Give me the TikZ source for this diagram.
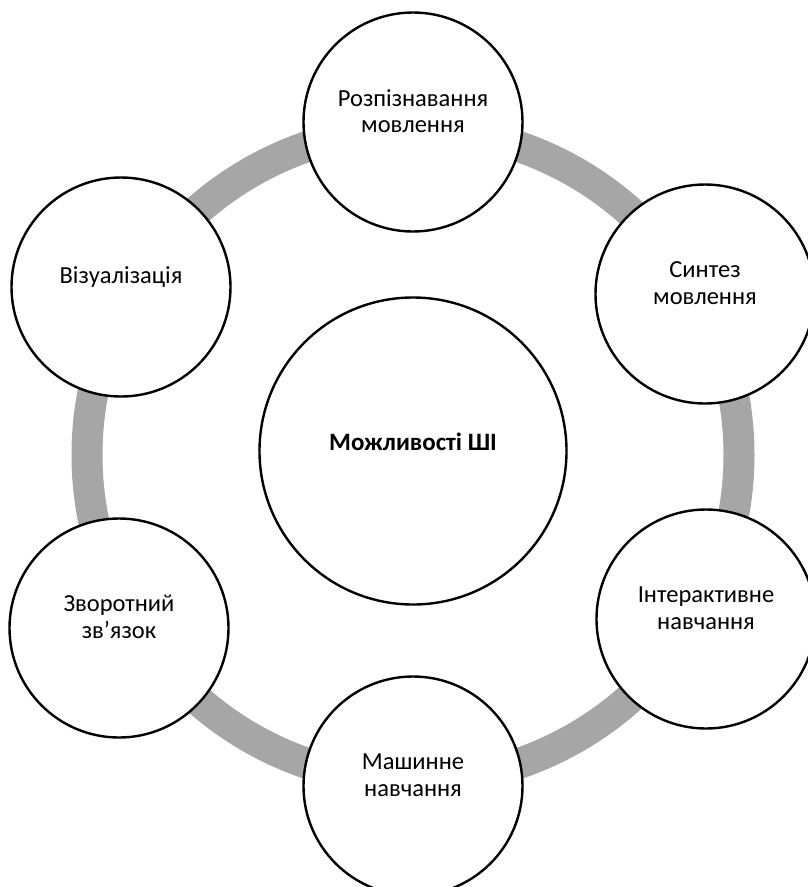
\documentclass[tikz,border=0pt]{standalone}
\usepackage{fontspec}
\setmainfont{Carlito}
\begin{document}
\begin{tikzpicture}[x=1pt,y=-1pt,
  bubble/.style={circle,draw=black,line width=2.4pt,fill=white,minimum size=219pt,inner sep=0pt},
  hub/.style={circle,draw=black,line width=2.4pt,fill=white,minimum size=307pt,inner sep=0pt},
  lbl/.style={align=center,inner sep=0pt,font=\fontsize{24.5}{26.5}\selectfont},
  hublbl/.style={align=center,inner sep=0pt,font=\fontsize{25}{27}\selectfont\bfseries},
  ring/.style={draw=black!35,line width=31pt}]
\useasboundingbox (0,0) rectangle (807,887);
\coordinate (rc) at (413,455);
\draw[ring] (rc) circle[radius=326pt];
\node[hub] (hubn) at (413,451) {};
\node[bubble] (top) at (413,122) {};
\node[bubble] (ur) at (705,294) {};
\node[bubble] (lr) at (706,619) {};
\node[bubble] (bot) at (413,786) {};
\node[bubble] (ll) at (119,628) {};
\node[bubble] (ul) at (121,287) {};
\node[hublbl] (hubt) at ([yshift=9pt]hubn.center) {Можливості ШІ};
\node[lbl] (topt) at ([yshift=11pt]top.center) {Розпізнавання\\мовлення};
\node[lbl] (urt) at ([yshift=11pt]ur.center) {Синтез\\мовлення};
\node[lbl] (lrt) at ([yshift=11pt]lr.center) {Інтерактивне\\навчання};
\node[lbl] (bott) at ([yshift=11pt]bot.center) {Машинне\\навчання};
\node[lbl] (llt) at ([yshift=11pt]ll.center) {Зворотний\\зв’язок};
\node[lbl] (ult) at ([yshift=10pt]ul.center) {Візуалізація};
\end{tikzpicture}
\end{document}
